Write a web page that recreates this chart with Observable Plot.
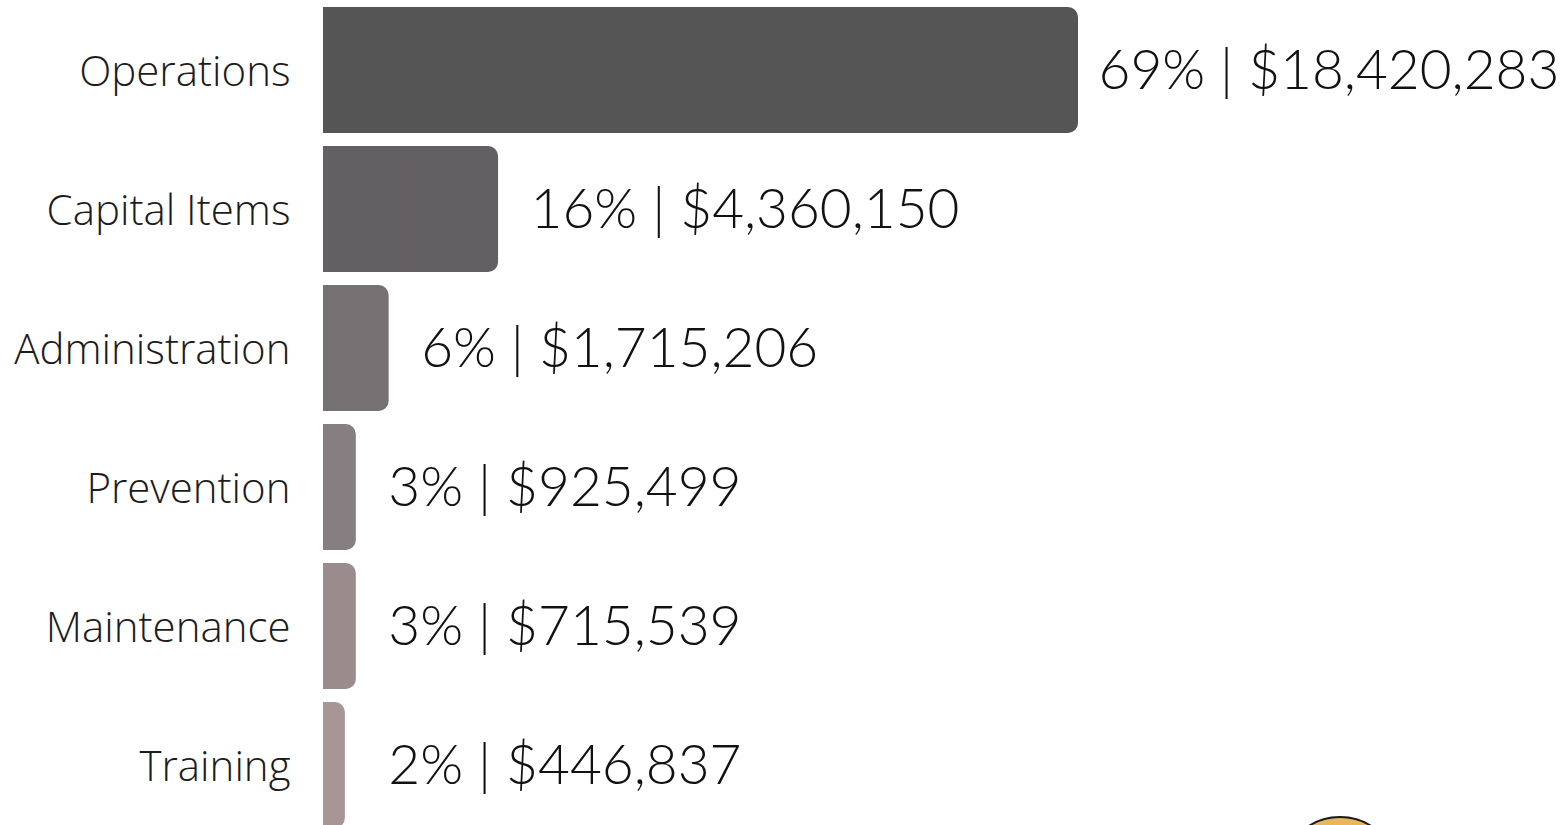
<!DOCTYPE html>
<html>
<head>
<meta charset="utf-8">
<script src="https://cdn.jsdelivr.net/npm/d3@7"></script>
<script src="https://cdn.jsdelivr.net/npm/@observablehq/plot@0.6"></script>
<style>
  html, body { margin: 0; padding: 0; background: #fff; overflow: hidden; }
  #wrap { position: relative; width: 1562px; height: 825px; overflow: hidden; }
  #logo { position: absolute; left: 1281px; top: 816px; width: 114px; height: 114px; border-radius: 50%; background: #e8b75c; border: 2px solid #1a1a1a; }
</style>
</head>
<body>
<div id="wrap"><div id="chart"></div><div id="logo"></div></div>
<script>
const categories = ["Operations", "Capital Items", "Administration", "Prevention", "Maintenance", "Training"];
const percents = [69, 16, 6, 3, 3, 2];
const amounts = [18420283, 4360150, 1715206, 925499, 715539, 446837];
const colors = ["#555555", "#636063", "#757072", "#877e81", "#9a8b8d", "#a89596"];

const data = categories.map((c, i) => ({
  category: c,
  pct: percents[i],
  amount: amounts[i],
  color: colors[i],
  label: `${percents[i]}% | $${d3.format(",")(amounts[i])}`
}));

const valueText = {
  x: d => Math.max(d.pct, 3), y: "category", text: "label", textAnchor: "start",
  fontSize: 55, fontWeight: 300, fill: "#111", fontFamily: "Lato, sans-serif", dy: 1
};

const chart = Plot.plot({
  width: 1562,
  height: 840,
  margin: 0,
  style: { fontFamily: "'Open Sans', sans-serif", background: "#fff" },
  x: { domain: [0, 69], range: [323, 1078], axis: null },
  y: { domain: categories, range: [7, 828], paddingInner: 13 / 139, paddingOuter: 0, axis: null },
  color: { type: "identity" },
  marks: [
    Plot.barX(data, { x: "pct", y: "category", fill: "color", rx: 10 }),
    Plot.barX(data, { x1: 0, x2: d => d.pct / 2, y: "category", fill: "color" }),
    Plot.text(data, {
      x: 0, y: "category", text: "category", textAnchor: "end", dx: -33, dy: 2,
      fontSize: 42, fontWeight: 300, fill: "#1c1c1c"
    }),
    Plot.text(data.slice(0, 1), { ...valueText, dx: 20 }),
    Plot.text(data.slice(1), { ...valueText, dx: 32 })
  ]
});
document.getElementById("chart").appendChild(chart);
</script>
</body>
</html>
